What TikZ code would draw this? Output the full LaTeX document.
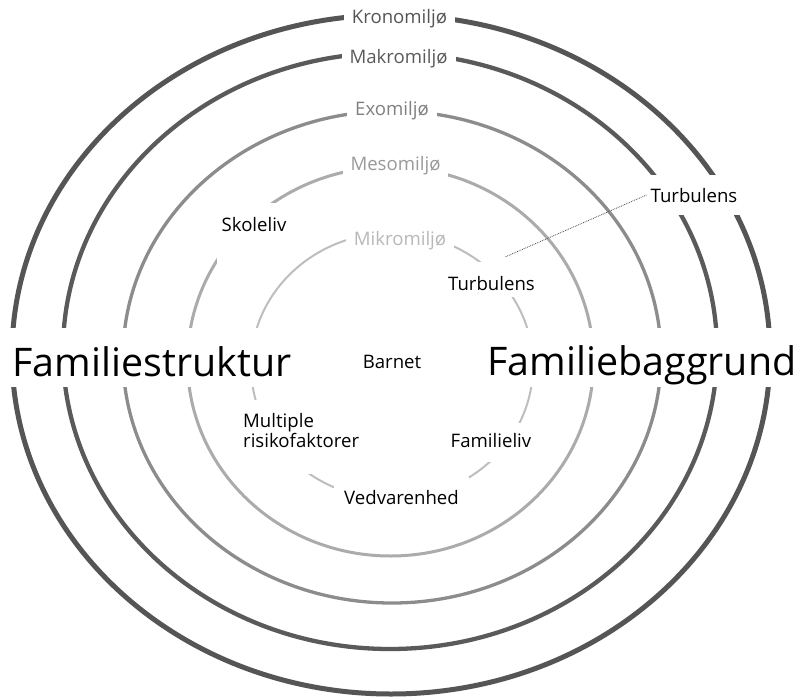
\documentclass[tikz,border=0pt]{standalone}
\usepackage{fontspec}
\setmainfont{Open Sans}
\definecolor{cK}{HTML}{555555}
\definecolor{cMa}{HTML}{5A5A5A}
\definecolor{cE}{HTML}{8C8C8C}
\definecolor{cMe}{HTML}{ABABAB}
\definecolor{cMi}{HTML}{BEBEBE}
\definecolor{tE}{HTML}{808080}
\definecolor{tMe}{HTML}{9A9A9A}
\definecolor{tMi}{HTML}{B8B8B8}
\begin{document}
\begin{tikzpicture}[x=1pt,y=-1pt,
  ring/.style={draw=#1},
  lab/.style={font=\fontsize{18.6}{20}\selectfont, fill=white, inner ysep=0pt, inner xsep=8pt, anchor=base, text=black},
  biglab/.style={lab, font=\fontsize{39.4}{44}\selectfont, inner xsep=4pt},
  toplab/.style={lab, text height=20pt, text depth=9pt, text=#1},
  leader/.style={densely dotted, line width=0.8pt, draw=black!70}
]
\fill[white] (0,0) rectangle (798,699);
\useasboundingbox (0,0) rectangle (798,699);

% rings
\draw[ring=cK, line width=5pt]   (391,354.5) ellipse [x radius=379pt, y radius=339.5pt];
\draw[ring=cMa, line width=4.3pt] (390,351) ellipse [x radius=327pt, y radius=298pt];
\draw[ring=cE, line width=3.3pt] (392,357) ellipse [x radius=269pt, y radius=246pt];
\draw[ring=cMe, line width=3pt] (390.5,361.5) ellipse [x radius=203pt, y radius=194.5pt];
\draw[ring=cMi, line width=2pt] (392,366) ellipse [x radius=141pt, y radius=133pt];

% ring labels
\node[toplab=cK]  (krono) at (399.5,23)  {Kronomiljø\hspace{6pt}};
\node[toplab=cMa] (makro) at (398.5,63)  {Makromiljø\hspace{3pt}};
\node[toplab=tE]  (exo)   at (392,115)   {Exomiljø\hspace{11pt}};
\node[toplab=tMe] (meso)  at (395.5,170) {Mesomiljø\hspace{7pt}};
\node[toplab=tMi] (mikro) at (400,245)   {Mikromiljø\hspace{7pt}};

% big labels
\node[biglab, text height=48pt, text depth=11pt] (fstruk) at (152,376) {Familiestruktur};
\node[biglab, text height=47pt, text depth=12pt] (fbag) at (642,375) {Familiebaggrund};

% inner labels
\node[lab, text height=27pt, text depth=13pt, inner xsep=4pt] (tout) at (694,202) {Turbulens};
\node[lab, text height=28pt, text depth=7pt, inner xsep=6pt] (tin) at (491.5,290) {Turbulens};
\node[lab, text height=28pt, text depth=32pt, inner xsep=5pt] (skole) at (254,231) {Skoleliv};
\node[lab, fill=none] (barn) at (392,368) {Barnet};
\node[lab, anchor=base west, text height=27pt, text depth=47pt] (multi) at (235,427)
  {\begin{tabular}[t]{@{}l@{}}Multiple\\risikofaktorer\end{tabular}};
\node[lab, text height=24pt, text depth=15pt] (famliv) at (491,447) {Familieliv};
\node[lab, text height=27pt, text depth=10pt, inner xsep=10pt] (vedv) at (401.5,504) {Vedvarenhed};

% leader line
\coordinate (tend) at (505,257);
\draw[leader] (tout.west) -- (tend);
\end{tikzpicture}
\end{document}
